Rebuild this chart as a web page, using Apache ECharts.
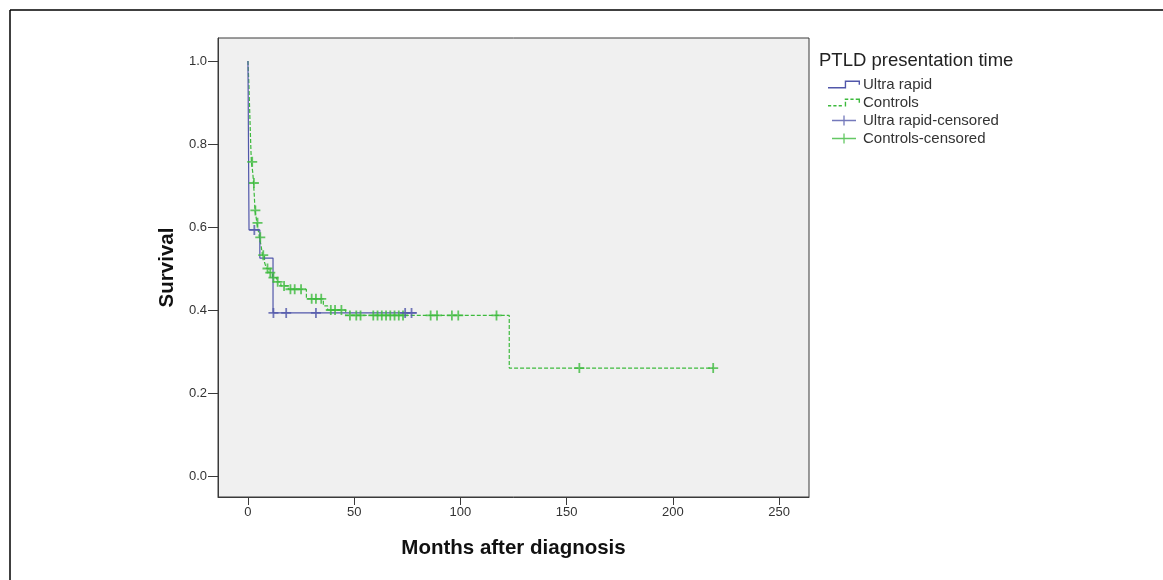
<!DOCTYPE html>
<html>
<head>
<meta charset="utf-8">
<title>PTLD survival</title>
<script src="https://cdn.jsdelivr.net/npm/echarts@6/dist/echarts.min.js"></script>
<style>
  html, body { margin: 0; padding: 0; background: #fff; }
  #km-chart { width: 1163px; height: 580px; }
</style>
</head>
<body>
<div id="km-chart"></div>
<script>
// Kaplan-Meier steps: survival drops to surv[i] at time times[i]
var ultraTimes = [0, 0.5, 5.6, 11.8, 79.5]
var ultraSurv = [1.0, 0.593, 0.525, 0.393, 0.393]
var ultraCensorTimes = [3, 12, 18, 32, 74, 77]
var ultraCensorSurv = [0.593, 0.393, 0.393, 0.393, 0.393, 0.393]

var controlTimes = [0, 0.4, 0.7, 1.0, 1.3, 1.6, 2.3, 2.6, 3.0, 3.3, 3.8, 4.2, 4.9, 5.4, 6.2, 6.8, 7.8, 8.7, 9.8, 11.5, 13.5, 15.5, 19, 27.5, 35.5, 37.5, 46, 123, 219]
var controlSurv = [1.0, 0.95, 0.90, 0.85, 0.80, 0.757, 0.73, 0.706, 0.675, 0.64, 0.625, 0.61, 0.59, 0.575, 0.555, 0.532, 0.515, 0.50, 0.49, 0.478, 0.468, 0.458, 0.45, 0.427, 0.41, 0.40, 0.387, 0.26, 0.26]
var controlCensorTimes = [2.0, 2.8, 3.5, 4.5, 5.8, 7.2, 9.2, 10.5, 12, 14, 17, 20, 22, 25, 30, 32, 34.5, 39, 41, 44, 48, 51, 53, 59, 61, 63, 65, 67, 69, 71, 73, 86, 89, 96, 99, 117, 156, 219]
var controlCensorSurv = [0.757, 0.706, 0.64, 0.61, 0.575, 0.532, 0.50, 0.49, 0.478, 0.468, 0.458, 0.45, 0.45, 0.45, 0.427, 0.427, 0.427, 0.40, 0.40, 0.40, 0.387, 0.387, 0.387, 0.387, 0.387, 0.387, 0.387, 0.387, 0.387, 0.387, 0.387, 0.387, 0.387, 0.387, 0.387, 0.387, 0.26, 0.26]

var xTicks = [0, 50, 100, 150, 200, 250]
var yTicks = [0, 0.2, 0.4, 0.6, 0.8, 1.0]

var blue = '#5157aa'
var green = '#3dba3d'

function pairs(xs, ys) {
  return xs.map(function (x, i) { return [x, ys[i]] })
}

// plus sign used for censored marks
var plusSymbol = 'path://M4.1,0H5.9V10H4.1ZM0,4.1H10V5.9H0Z'

var chart = echarts.init(document.getElementById('km-chart'))
var option = {
  backgroundColor: '#fff',
  animation: false,
  textStyle: { fontFamily: 'Liberation Sans, Arial, sans-serif' },
  title: {
    text: 'PTLD presentation time',
    left: 814,
    top: 46,
    textStyle: { fontSize: 18.5, fontWeight: 'normal', color: '#222' }
  },
  legend: {
    orient: 'vertical',
    left: 823,
    top: 72,
    itemWidth: 32,
    itemHeight: 10,
    itemGap: 3,
    textStyle: { fontSize: 15, color: '#333', padding: [0, 0, 0, -2] },
    data: [
      { name: 'Ultra rapid', icon: 'path://M0,7H17V8.3H0ZM15.7,1H17V8.3H15.7ZM15.7,1H30V2.3H15.7ZM28.7,1H30V5H28.7Z' },
      { name: 'Controls', icon: 'path://M0,7H3V8.3H0ZM5,7H8V8.3H5ZM10,7H13V8.3H10ZM15.7,4H17V8.3H15.7ZM15.7,1H19V2.3H15.7ZM21,1H24V2.3H21ZM26,1H30V2.3H26ZM28.7,1H30V5H28.7Z' },
      { name: 'Ultra rapid-censored', icon: 'path://M4,4.35H28V5.65H4ZM15.35,0H16.65V10H15.35Z' },
      { name: 'Controls-censored', icon: 'path://M4,4.35H28V5.65H4ZM15.35,0H16.65V10H15.35Z' }
    ]
  },
  grid: {
    left: 218,
    top: 38,
    right: 354,
    bottom: 83,
    show: true,
    backgroundColor: '#f0f0f0',
    borderColor: '#3a3a3a',
    borderWidth: 1
  },
  xAxis: {
    type: 'value',
    min: -14.1,
    max: 264.1,
    name: 'Months after diagnosis',
    nameLocation: 'middle',
    nameGap: 41,
    nameTextStyle: { fontSize: 20.5, fontWeight: 'bold', color: '#111' },
    axisLine: { show: true, onZero: false, lineStyle: { color: '#3a3a3a' } },
    axisTick: { show: true, customValues: xTicks, length: 8, lineStyle: { color: '#3a3a3a' } },
    axisLabel: { customValues: xTicks, margin: 9, fontSize: 13, color: '#333' },
    splitLine: { show: false }
  },
  yAxis: {
    type: 'value',
    min: -0.0506,
    max: 1.0554,
    name: 'Survival',
    nameLocation: 'middle',
    nameGap: 34,
    nameTextStyle: { fontSize: 20.5, fontWeight: 'bold', color: '#111' },
    axisLine: { show: true, onZero: false, lineStyle: { color: '#3a3a3a' } },
    axisTick: { show: true, customValues: yTicks, length: 10, lineStyle: { color: '#3a3a3a' } },
    axisLabel: {
      customValues: yTicks,
      margin: 11,
      fontSize: 13,
      color: '#333',
      formatter: function (v) { return v.toFixed(1) }
    },
    splitLine: { show: false }
  },
  series: [
    {
      name: 'Ultra rapid',
      type: 'line',
      step: 'end',
      showSymbol: false,
      symbol: 'none',
      color: blue,
      lineStyle: { width: 1.2, color: blue },
      data: pairs(ultraTimes, ultraSurv),
      z: 3
    },
    {
      name: 'Controls',
      type: 'line',
      step: 'end',
      showSymbol: false,
      symbol: 'none',
      color: green,
      lineStyle: { width: 1.2, color: green, type: [4, 2] },
      data: pairs(controlTimes, controlSurv),
      z: 2
    },
    {
      name: 'Ultra rapid-censored',
      type: 'scatter',
      symbol: plusSymbol,
      symbolSize: 10,
      color: blue,
      itemStyle: { color: blue },
      data: pairs(ultraCensorTimes, ultraCensorSurv),
      z: 5
    },
    {
      name: 'Controls-censored',
      type: 'scatter',
      symbol: plusSymbol,
      symbolSize: 10,
      color: green,
      itemStyle: { color: green },
      data: pairs(controlCensorTimes, controlCensorSurv),
      z: 4
    }
  ],
  graphic: [
    // outer frame (top and left edges)
    { type: 'line', shape: { x1: 10, y1: 10, x2: 1163, y2: 10 }, style: { stroke: '#000', lineWidth: 1.5 } },
    { type: 'line', shape: { x1: 10, y1: 10, x2: 10, y2: 580 }, style: { stroke: '#000', lineWidth: 1.5 } }
  ]
}
chart.setOption(option)
</script>
</body>
</html>
